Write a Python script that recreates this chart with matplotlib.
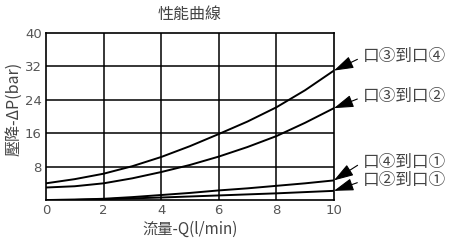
import matplotlib
matplotlib.use("Agg")
import matplotlib.pyplot as plt

plt.rcParams['font.family'] = ['Noto Sans CJK TC', 'DejaVu Sans']

flow = [0, 1, 2, 3, 4, 5, 6, 7, 8, 9, 10]
p34 = [4.0, 5.0, 6.3, 8.1, 10.3, 12.9, 15.8, 18.8, 22.2, 26.3, 31.0]
p32 = [3.0, 3.3, 4.0, 5.2, 6.7, 8.4, 10.4, 12.7, 15.3, 18.5, 22.0]
p41 = [0.0, 0.1, 0.3, 0.7, 1.2, 1.7, 2.3, 2.8, 3.4, 4.0, 4.7]
p21 = [0.0, 0.05, 0.2, 0.4, 0.6, 0.85, 1.1, 1.35, 1.6, 1.9, 2.2]
series = [p34, p32, p41, p21]
labels = ['口③到口④', '口③到口②', '口④到口①', '口②到口①']
label_y = [34.3, 24.7, 9.1, 4.6]

xticks = [0, 2, 4, 6, 8, 10]
yticks = [8, 16, 24, 32, 40]

fig = plt.figure(figsize=(4.5, 2.41), dpi=100)
ax = fig.add_axes([0.102, 0.170, 0.640, 0.693])
ax.set_xlim(0, 10)
ax.set_ylim(0, 40)
for x in xticks[1:-1]:
    ax.axvline(x, color='black', lw=1.1, zorder=1)
for y in yticks[:-1]:
    ax.axhline(y, color='black', lw=1.1, zorder=1)
for s in series:
    ax.plot(flow, s, color='black', lw=1.4, zorder=3)
for sp in ax.spines.values():
    sp.set_linewidth(1.2)
ax.set_xticks(xticks)
ax.set_yticks(yticks)
ax.tick_params(length=0, pad=3, labelsize=9.5, labelcolor='#555555')
ax.set_xticklabels([str(v) for v in xticks], family=['DejaVu Sans'])
ax.set_yticklabels([str(v) for v in yticks], family=['DejaVu Sans'])

for s, lab, ly in zip(series, labels, label_y):
    ax.annotate(lab, xy=(10, s[-1]), xytext=(11.0, ly),
                textcoords='data', xycoords='data', annotation_clip=False,
                fontsize=12, color='#444444', va='center', ha='left',
                arrowprops=dict(arrowstyle='-|>,head_length=1.1,head_width=0.35',
                                mutation_scale=11, relpos=(0.0, 0.5),
                                color='black', lw=0.8, shrinkA=2, shrinkB=0))

fig.text(0.422, 0.94, '性能曲線', ha='center', va='center', fontsize=11.5, color='#444444')
fig.text(0.422, 0.05, '流量-Q(l/min)', ha='center', va='center', fontsize=11, color='#444444')
fig.text(0.03, 0.55, '壓降-ΔP(bar)', ha='center', va='center', rotation=90, fontsize=11.5, color='#444444')

fig.savefig('out.png', dpi=100)
